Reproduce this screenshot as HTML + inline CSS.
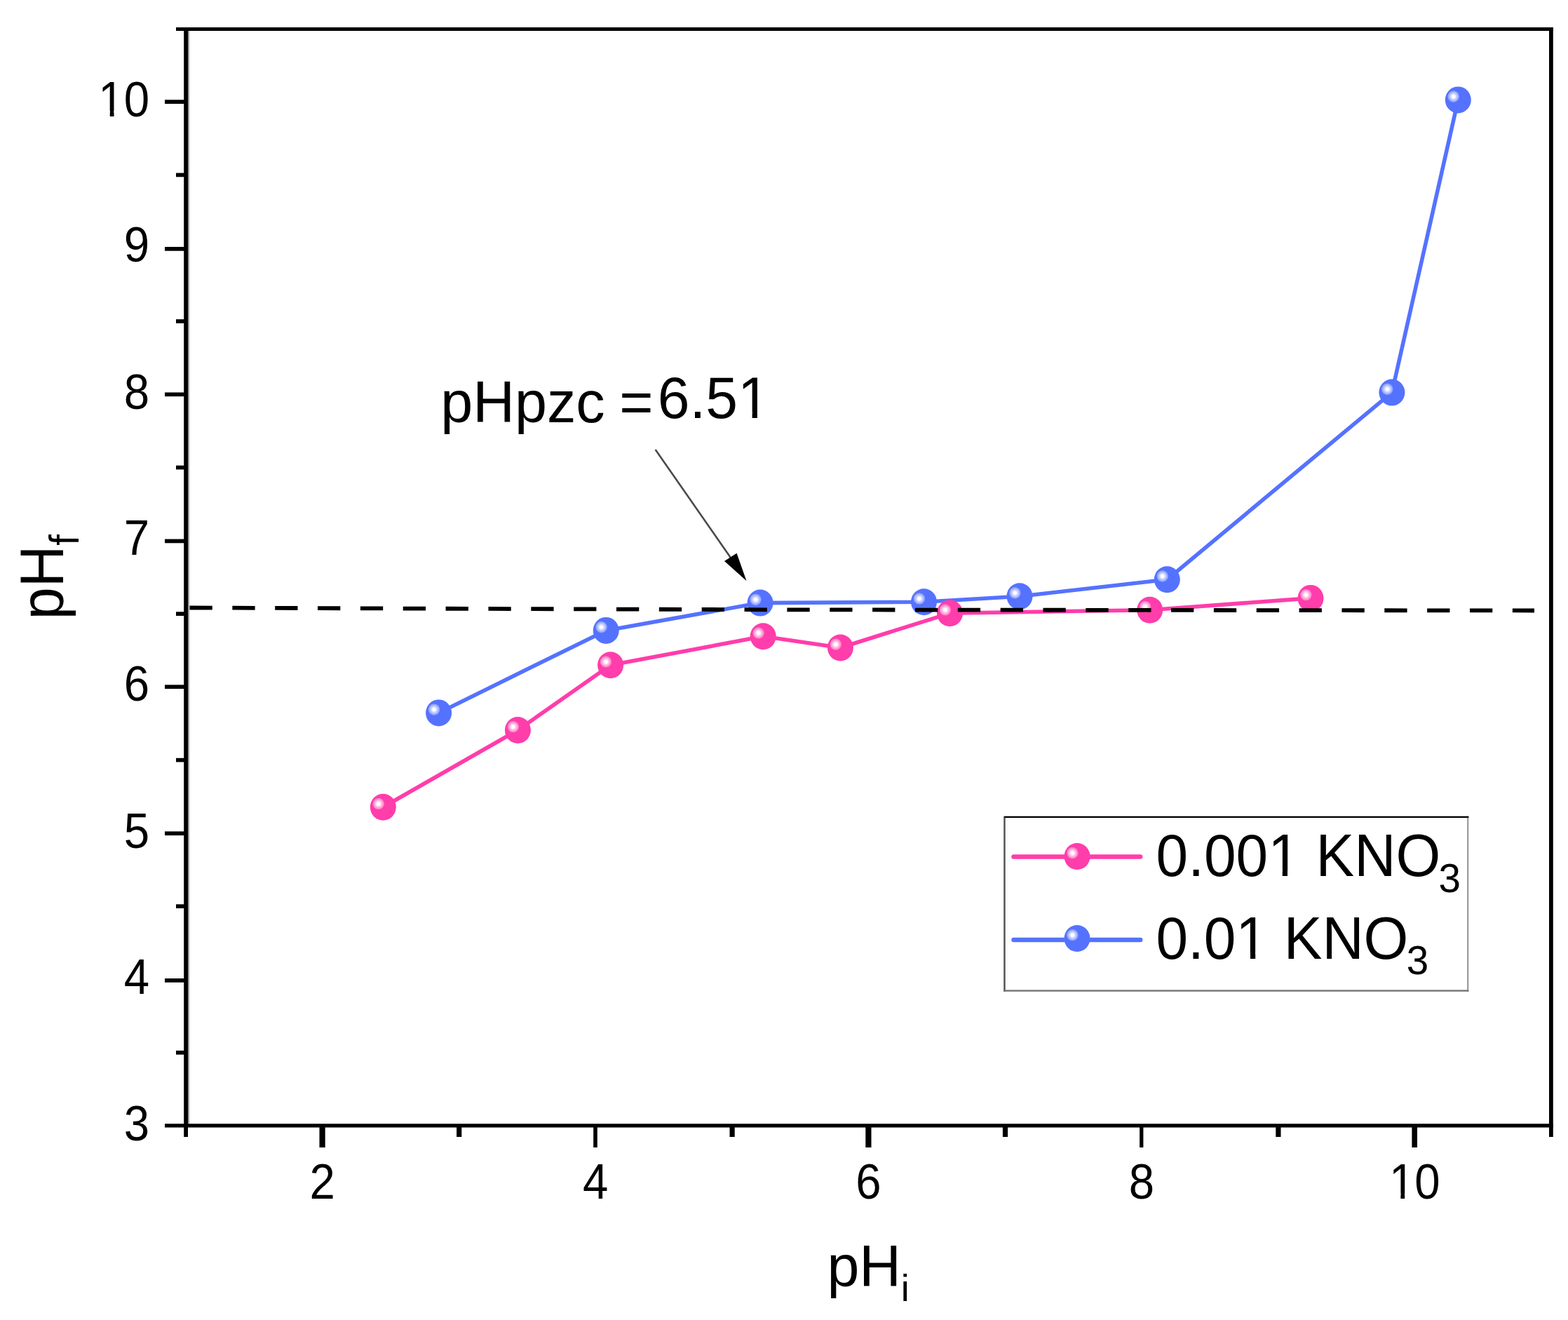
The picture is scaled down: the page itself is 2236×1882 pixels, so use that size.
<!DOCTYPE html>
<html lang="en"><head><meta charset="utf-8"><title>pHpzc plot</title>
<style>
html,body{margin:0;padding:0;background:#fff;}
body{width:2236px;height:1882px;overflow:hidden;}
svg{display:block;}
text{font-family:"Liberation Sans",sans-serif;fill:#000;}
.tick{font-size:68.8px;}
</style></head><body>
<svg width="2236" height="1882" viewBox="0 0 2236 1882">
<defs>
<radialGradient id="gp" cx="0.5" cy="0.5" r="0.5"><stop offset="0" stop-color="#ffffff"/><stop offset="0.22" stop-color="#ffffff"/><stop offset="0.45" stop-color="#ffcde9"/><stop offset="0.7" stop-color="#ff9ed5"/><stop offset="0.9" stop-color="#ff7bc6"/><stop offset="1" stop-color="#ff3dab"/></radialGradient>
<radialGradient id="gb" cx="0.5" cy="0.5" r="0.5"><stop offset="0" stop-color="#ffffff"/><stop offset="0.22" stop-color="#ffffff"/><stop offset="0.45" stop-color="#d3daff"/><stop offset="0.7" stop-color="#aab8ff"/><stop offset="0.9" stop-color="#8b9fff"/><stop offset="1" stop-color="#5572ff"/></radialGradient>
<g id="mp"><ellipse rx="18.5" ry="19" fill="#ff3dab"/><circle cx="-6.6" cy="-4.8" r="8.6" fill="url(#gp)"/></g>
<g id="mb"><ellipse rx="18.5" ry="19" fill="#5572ff"/><circle cx="-6.6" cy="-4.8" r="8.6" fill="url(#gb)"/></g>
<clipPath id="c-tl1" clipPathUnits="userSpaceOnUse"><path clip-rule="evenodd" d="M-9000-9000H9000V9000H-9000ZM164.29 -8.63H180.16V1.50H164.29ZM187.41 -8.63H202.64V1.50H187.41Z"/></clipPath>
<clipPath id="c-tl2" clipPathUnits="userSpaceOnUse"><path clip-rule="evenodd" d="M-9000-9000H9000V9000H-9000ZM118.70 -8.63H134.57V1.50H118.70ZM141.82 -8.63H157.05V1.50H141.82Z"/></clipPath>
<clipPath id="c-tval" clipPathUnits="userSpaceOnUse"><path clip-rule="evenodd" d="M-9000-9000H9000V9000H-9000ZM119.02 -8.64H134.93V1.50H119.02ZM142.20 -8.64H157.46V1.50H142.20Z"/></clipPath>
<clipPath id="c-tx10" clipPathUnits="userSpaceOnUse"><path clip-rule="evenodd" d="M-9000-9000H9000V9000H-9000ZM-34.52 -7.64H-20.96V1.50H-34.52ZM-14.88 -7.64H-1.85V1.50H-14.88Z"/></clipPath>
<clipPath id="c-ty10" clipPathUnits="userSpaceOnUse"><path clip-rule="evenodd" d="M-9000-9000H9000V9000H-9000ZM-72.78 -7.64H-59.22V1.50H-72.78ZM-53.13 -7.64H-40.11V1.50H-53.13Z"/></clipPath>
</defs>
<rect width="2236" height="1882" fill="#fff"/>
<g id="chart">
<g id="axes" fill="#000">
<rect x="268" y="44" width="2" height="1558" fill="#999"/>
<rect x="262.2" y="39" width="5.8" height="1582"/>
<rect x="2209" y="39" width="5.8" height="1582"/>
<rect x="251" y="39" width="1963.8" height="5"/>
<rect x="235" y="1602.2" width="1979.8" height="5.3"/>
<rect x="235" y="1395.0" width="28" height="5.7"/>
<rect x="235" y="1185.4" width="28" height="5.7"/>
<rect x="235" y="976.4" width="28" height="5.7"/>
<rect x="235" y="768.6" width="28" height="5.7"/>
<rect x="235" y="559.5" width="28" height="5.7"/>
<rect x="235" y="352.0" width="28" height="5.7"/>
<rect x="235" y="142.3" width="28" height="5.7"/>
<rect x="251" y="1497.9" width="12" height="5.7"/>
<rect x="251" y="1289.3" width="12" height="5.7"/>
<rect x="251" y="1080.8" width="12" height="5.7"/>
<rect x="251" y="872.3" width="12" height="5.7"/>
<rect x="251" y="663.7" width="12" height="5.7"/>
<rect x="251" y="455.2" width="12" height="5.7"/>
<rect x="251" y="246.6" width="12" height="5.7"/>
<rect x="455.5" y="1605" width="8.2" height="31"/>
<rect x="846.2" y="1605" width="5.6" height="31"/>
<rect x="1234.3" y="1605" width="8.2" height="31"/>
<rect x="1625.1" y="1605" width="5.3" height="31"/>
<rect x="2013.4" y="1605" width="7.6" height="31"/>
<rect x="651.1" y="1605" width="7.2" height="16"/>
<rect x="1040.5" y="1605" width="7.2" height="16"/>
<rect x="1429.9" y="1605" width="7.2" height="16"/>
<rect x="1819.3" y="1605" width="7.2" height="16"/>
</g>
<g class="tick" text-anchor="end">
<text id="ty3" transform="translate(213 1625.7) scale(0.950 1.03)">3</text>
<text id="ty4" transform="translate(213 1417.2) scale(0.950 1.03)">4</text>
<text id="ty5" transform="translate(213 1209.4) scale(0.950 1.03)">5</text>
<text id="ty6" transform="translate(213 999.4) scale(0.950 1.03)">6</text>
<text id="ty7" transform="translate(213 790.7) scale(0.950 1.03)">7</text>
<text id="ty8" transform="translate(213 582.8) scale(0.950 1.03)">8</text>
<text id="ty9" transform="translate(213 373.4) scale(0.950 1.03)">9</text>
<text id="ty10" clip-path="url(#c-ty10)" transform="translate(213 165.9) scale(0.950 1.03)">10</text>
</g>
<g class="tick" text-anchor="middle">
<text id="tx2" transform="translate(459.7 1709.3) scale(0.950 1.03)">2</text>
<text id="tx4" transform="translate(849.1 1709.3) scale(0.950 1.03)">4</text>
<text id="tx6" transform="translate(1238.5 1709.3) scale(0.950 1.03)">6</text>
<text id="tx8" transform="translate(1627.9 1709.3) scale(0.950 1.03)">8</text>
<text id="tx10" clip-path="url(#c-tx10)" transform="translate(2017.3 1709.3) scale(0.950 1.03)">10</text>
</g>
<text x="1179.4" y="1833.8" font-size="82.5">pH<tspan font-size="54" dy="21.4">i</tspan></text>
<text transform="translate(89.5 883.2) rotate(-90) scale(1 1.05)" font-size="82.5">pH<tspan font-size="56" dy="21.4">f</tspan></text>
<polyline fill="none" stroke="#5572ff" stroke-width="5.6" stroke-linejoin="round" points="625.6,1016.4 864.2,898.9 1084.1,859.6 1317.5,858.3 1454.0,850.2 1664.3,826.3 1984.9,559.6 2079.3,142.4"/>
<use href="#mb" x="625.6" y="1016.4"/>
<use href="#mb" x="864.2" y="898.9"/>
<use href="#mb" x="1084.1" y="859.6"/>
<use href="#mb" x="1317.5" y="858.3"/>
<use href="#mb" x="1454.0" y="850.2"/>
<use href="#mb" x="1664.3" y="826.3"/>
<use href="#mb" x="1984.9" y="559.6"/>
<use href="#mb" x="2079.3" y="142.4"/>
<polyline fill="none" stroke="#ff3dab" stroke-width="5.6" stroke-linejoin="round" points="546.3,1150.8 738.4,1041.0 870.6,948.3 1088.2,907.3 1198.4,923.5 1354.5,874.3 1639.7,869.7 1869.0,852.9"/>
<use href="#mp" x="546.3" y="1150.8"/>
<use href="#mp" x="738.4" y="1041.0"/>
<use href="#mp" x="870.6" y="948.3"/>
<use href="#mp" x="1088.2" y="907.3"/>
<use href="#mp" x="1198.4" y="923.5"/>
<use href="#mp" x="1354.5" y="874.3"/>
<use href="#mp" x="1639.7" y="869.7"/>
<use href="#mp" x="1869.0" y="852.9"/>
<polyline fill="none" points="270.5,866.5 1100,869.3 2188,870.5" stroke="#000" stroke-width="5.8" stroke-dasharray="32.3 28.55"/>
<text x="628.3" y="602.1" font-size="82.7">pHpzc <tspan dx="-2.5">=</tspan></text>
<text id="tval" clip-path="url(#c-tval)" transform="translate(937.7 596) scale(1 1.024)" font-size="82.2">6.51</text>
<line x1="934.6" y1="640.9" x2="1046" y2="801" stroke="#4a4a4a" stroke-width="2.6"/>
<polygon points="1064.5,828.2 1033,800 1050.6,788.8" fill="#000"/>
<rect x="1431.2" y="1163.7" width="2.5" height="250" fill="#555"/>
<rect x="2092.1" y="1163.7" width="2.2" height="250" fill="#999"/>
<rect x="1431.2" y="1411.4" width="663.1" height="2.3" fill="#707070"/>
<rect x="1432.5" y="1163.7" width="661.8" height="2.3" fill="#000"/>
<line x1="1445.5" y1="1221.5" x2="1626.2" y2="1221.5" stroke="#ff3dab" stroke-width="6.5" stroke-linecap="round"/>
<use href="#mp" x="1536" y="1221"/>
<line x1="1445.5" y1="1340" x2="1626.2" y2="1340" stroke="#5572ff" stroke-width="6.5" stroke-linecap="round"/>
<use href="#mb" x="1536" y="1338"/>
<text id="tl1" clip-path="url(#c-tl1)" transform="translate(1648.6 1249.2) scale(1 1.03)" font-size="82">0.001 KNO<tspan font-size="56.5" dx="-2.6" dy="21.9">3</tspan></text>
<text id="tl2" clip-path="url(#c-tl2)" transform="translate(1648.4 1367) scale(1 1.03)" font-size="82">0.01 KNO<tspan font-size="56.5" dx="-2.6" dy="21.6">3</tspan></text>
</g>
</svg>
</body></html>
